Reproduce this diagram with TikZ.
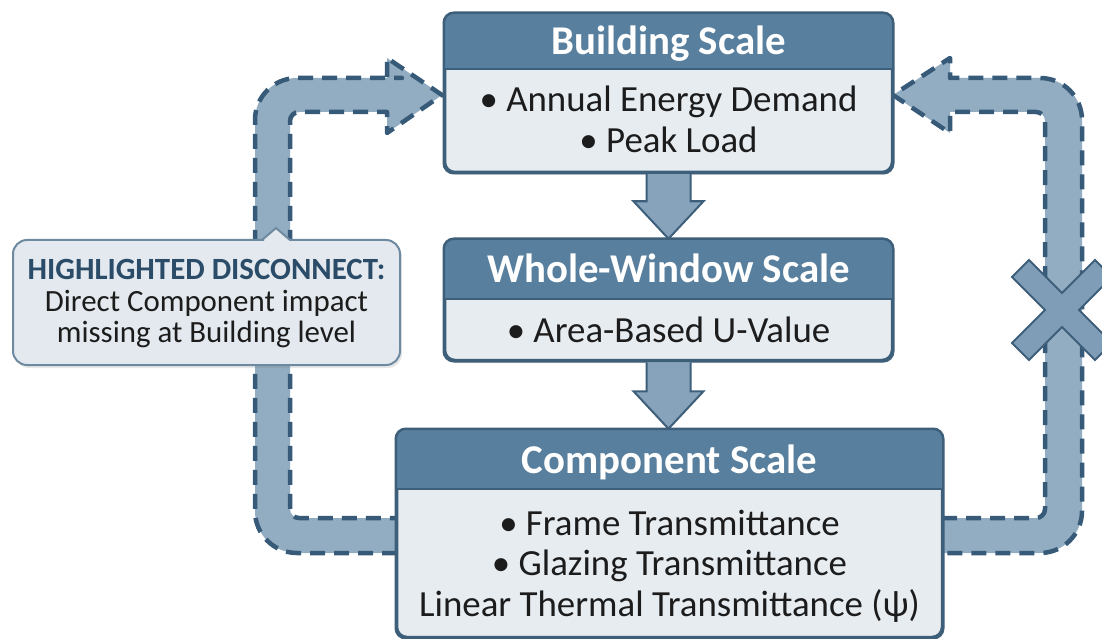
\documentclass[tikz,border=0pt]{standalone}
\usepackage{fontspec}
\setmainfont{Carlito}
\usetikzlibrary{calc,shadows}
\definecolor{hdr}{HTML}{58809E}
\definecolor{bord}{HTML}{3E5F7A}
\definecolor{bodyc}{HTML}{E7ECF1}
\definecolor{bandc}{HTML}{92ADC2}
\definecolor{dashc}{HTML}{365A78}
\definecolor{arrc}{HTML}{86A3BB}
\definecolor{xc}{HTML}{7F9DB6}
\definecolor{callf}{HTML}{E3E9EE}
\definecolor{callb}{HTML}{6E8AA1}
\definecolor{calltitle}{HTML}{2B4C68}
\definecolor{txt}{HTML}{1C1C1C}
\newcommand\drawpanel[6]{%
  \node[boxbody, minimum width=#4bp, minimum height=#5bp] (#1) at (#2,#3) {};
  \fill[hdr] ($(#1.north west)+(0,#6)$) -- ($(#1.north west)+(0,20)$) [rounded corners=10bp] -- (#1.north west) -- (#1.north east) -- ($(#1.north east)+(0,20)$) [sharp corners] -- ($(#1.north east)+(0,#6)$) -- cycle;
  \draw[bord, line width=2bp] ($(#1.north west)+(0,#6)$) -- ($(#1.north east)+(0,#6)$);
  \draw[bord, line width=2.5bp, rounded corners=10bp] (#1.north west) rectangle (#1.south east);
}
\begin{document}
\begin{tikzpicture}[x=1bp,y=-1bp,
  band/.style={fill=bandc, draw=dashc, line width=4.5bp, dash pattern=on 15bp off 9bp, line join=round},
  downarrow/.style={fill=arrc, draw=bord, line width=2bp, line join=miter},
  boxbody/.style={draw=bord, line width=2.5bp, fill=bodyc, rounded corners=10bp, inner sep=0pt,
     drop shadow={opacity=0.18, shadow xshift=2bp, shadow yshift=-3bp}},
  hdrtext/.style={text=white, font=\bfseries\fontsize{41}{45}\selectfont, anchor=base, inner sep=0pt},
  bodytext/.style={text=txt, font=\fontsize{37}{41}\selectfont, anchor=base, inner sep=0pt},
  calltext/.style={text=txt, font=\fontsize{31}{31.5}\selectfont, anchor=base, inner sep=0pt},
  xshape/.style={fill=xc, draw=bord, line width=2bp, line join=miter},
  callout/.style={fill=callf, draw=callb, line width=2bp,
     drop shadow={opacity=0.18, shadow xshift=2bp, shadow yshift=-3bp}}
]
\fill[white] (0,0) rectangle (1102,639);
\useasboundingbox (0,0) rectangle (1102,639);

% dashed feedback bands
\filldraw[band] (397,553) [rounded corners=42bp] -- (255,553) -- (255,78) -- (360,78) [sharp corners] -- (387,78) -- (387,58) -- (442,95) -- (387,133) -- (387,112) -- (360,112) [rounded corners=9bp] -- (290,112) -- (290,518) -- (360,518) [sharp corners] -- (397,518);
\filldraw[band] (942,518) [rounded corners=9bp] -- (1045,518) -- (1045,112) -- (980,112) [sharp corners] -- (950,112) -- (950,133) -- (893,95) -- (950,58) -- (950,78) -- (980,78) [rounded corners=42bp] -- (1082,78) -- (1082,553) -- (942,553);

% panels
\drawpanel{bld}{668.5}{93}{447}{158}{56}
\drawpanel{win}{668.5}{300}{447}{120}{60}
\drawpanel{cmp}{669.5}{533.5}{545}{207}{60}

% block arrows between panels
\draw[downarrow] ($(bld.south)+(-22,1)$) -- ($(bld.south)+(-22,28)$) -- ($(bld.south)+(-35,28)$) -- (win.north) -- ($(bld.south)+(35,28)$) -- ($(bld.south)+(22,28)$) -- ($(bld.south)+(22,1)$);
\draw[downarrow] ($(win.south)+(-22,1)$) -- ($(win.south)+(-22,30)$) -- ($(win.south)+(-35,30)$) -- ($(cmp.north)+(-1,0)$) -- ($(win.south)+(35,30)$) -- ($(win.south)+(22,30)$) -- ($(win.south)+(22,1)$);

% texts
\node[hdrtext] (bldt) at (668.5,55) {Building Scale};
\node[bodytext] (bldb) at (668.5,112) {\begin{tabular}[t]{@{}c@{}}• Annual Energy Demand\\• Peak Load\end{tabular}};
\node[hdrtext] (wint) at (668.5,283) {Whole-Window Scale};
\node[bodytext] (winb) at (668.5,342) {• Area-Based U-Value};
\node[hdrtext] (cmpt) at (669.5,473) {Component Scale};
\node[bodytext] (cmpb) at (669.5,535) {\begin{tabular}[t]{@{}c@{}}• Frame Transmittance\\• Glazing Transmittance\\Linear Thermal Transmittance (ψ)\end{tabular}};

% cross on the right band
\draw[xshape, shift={(1062,310)}] (0,-17) -- (33,-50) -- (50,-33) -- (17,0) -- (50,33) -- (33,50) -- (0,17) -- (-33,50) -- (-50,33) -- (-17,0) -- (-50,-33) -- (-33,-50) -- cycle;

% callout
\filldraw[callout] (13,300) [rounded corners=14bp] -- (13,240) -- (250,240) [sharp corners] -- (262,240) -- (276,228) -- (290,240) -- (300,240) [rounded corners=14bp] -- (400,240) -- (400,365) -- (13,365) -- cycle;
\node[calltext] (callt) at (206.5,280) {\begin{tabular}[t]{@{}c@{}}\textcolor{calltitle}{\bfseries HIGHLIGHTED DISCONNECT:}\\Direct Component impact\\missing at Building level\end{tabular}};
\end{tikzpicture}
\end{document}
